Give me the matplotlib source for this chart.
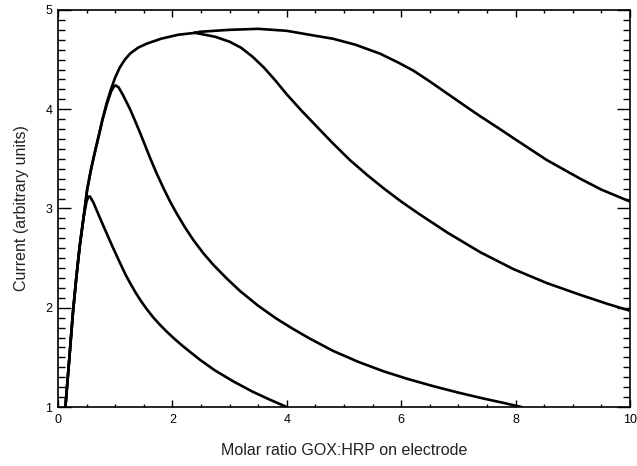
import matplotlib
matplotlib.use("Agg")
import matplotlib.pyplot as plt
from matplotlib.ticker import MultipleLocator

# rising part shared by every curve
rise_x = [0.13, 0.20, 0.26, 0.32, 0.38, 0.45, 0.51, 0.58, 0.65, 0.72, 0.78, 0.85, 0.92, 1.00, 1.08, 1.17, 1.26, 1.40, 1.55, 1.80, 2.10, 2.40]
rise_y = [1.00, 1.50, 1.94, 2.30, 2.62, 2.92, 3.19, 3.40, 3.58, 3.75, 3.90, 4.06, 4.19, 4.32, 4.42, 4.50, 4.56, 4.62, 4.66, 4.71, 4.75, 4.77]

# curve 1 : peak ~0.55
c1_x = [0.13, 0.20, 0.26, 0.32, 0.38, 0.45, 0.50, 0.53, 0.56, 0.62, 0.70, 0.82, 0.95, 1.03, 1.11, 1.18, 1.26, 1.36, 1.46, 1.56,
        1.67, 1.78, 1.90, 2.03, 2.16, 2.32, 2.48, 2.74, 3.06, 3.40, 3.70, 4.00]
c1_y = [1.00, 1.50, 1.94, 2.30, 2.62, 2.92, 3.07, 3.12, 3.12, 3.06, 2.95, 2.79, 2.62, 2.52, 2.42, 2.335, 2.25, 2.15, 2.06, 1.98,
        1.90, 1.83, 1.76, 1.69, 1.625, 1.55, 1.477, 1.37, 1.26, 1.155, 1.075, 1.00]

# curve 2 : peak ~1.0
c2_x = [0.13, 0.20, 0.26, 0.32, 0.38, 0.45, 0.51, 0.58, 0.65, 0.72, 0.78, 0.86, 0.93, 0.98, 1.01, 1.06, 1.13, 1.20, 1.26, 1.35,
        1.43, 1.52, 1.61, 1.72, 1.84, 1.96, 2.08, 2.22, 2.37, 2.54, 2.72, 2.95, 3.18, 3.50, 3.82, 4.10, 4.40, 4.81, 5.25, 5.69,
        6.10, 6.56, 7.00, 7.44, 7.80, 8.10]
c2_y = [1.00, 1.50, 1.94, 2.30, 2.62, 2.92, 3.19, 3.40, 3.58, 3.75, 3.90, 4.06, 4.18, 4.23, 4.24, 4.22, 4.15, 4.07, 4.00, 3.88,
        3.77, 3.64, 3.51, 3.36, 3.21, 3.07, 2.945, 2.81, 2.68, 2.55, 2.43, 2.295, 2.17, 2.02, 1.89, 1.79, 1.69, 1.565, 1.455, 1.36,
        1.285, 1.21, 1.145, 1.085, 1.04, 1.00]

# curve 3 : leaves the plateau ~2.4
c3_x = [2.48, 2.75, 3.00, 3.20, 3.40, 3.60, 3.80, 4.00, 4.25, 4.50, 4.80, 5.10, 5.40, 5.70, 6.00, 6.30, 6.80, 7.38, 7.96, 8.54,
        9.13, 9.60, 10.0]
c3_y = [4.76, 4.73, 4.68, 4.62, 4.53, 4.42, 4.29, 4.15, 3.99, 3.84, 3.66, 3.49, 3.34, 3.20, 3.07, 2.95, 2.76, 2.56, 2.39, 2.25,
        2.13, 2.04, 1.97]

# curve 4 : longest plateau
c4_x = [2.48, 3.00, 3.50, 4.00, 4.40, 4.81, 5.20, 5.63, 5.95, 6.21, 6.50, 6.80, 7.10, 7.38, 7.70, 7.96, 8.25, 8.54, 8.85, 9.13,
        9.50, 10.0]
c4_y = [4.78, 4.80, 4.81, 4.79, 4.75, 4.71, 4.65, 4.56, 4.47, 4.39, 4.28, 4.16, 4.04, 3.93, 3.81, 3.71, 3.60, 3.49, 3.39, 3.30,
        3.19, 3.07]

plt.rcParams['font.family'] = ['Liberation Sans', 'DejaVu Sans']

fig = plt.figure(figsize=(6.37, 4.66), dpi=100)
ax = fig.add_axes([0.091, 0.1266, 0.898, 0.852])

lw = 1.9
ax.plot(c1_x, c1_y, color='black', lw=lw)
ax.plot(c2_x, c2_y, color='black', lw=lw)
ax.plot(rise_x, rise_y, color='black', lw=lw)
ax.plot([rise_x[-1]] + c3_x, [rise_y[-1]] + c3_y, color='black', lw=lw)
ax.plot([rise_x[-1]] + c4_x, [rise_y[-1]] + c4_y, color='black', lw=lw)

ax.set_xlim(0, 10)
ax.set_ylim(1, 5)
ax.xaxis.set_major_locator(MultipleLocator(2))
ax.xaxis.set_minor_locator(MultipleLocator(0.5))
ax.yaxis.set_major_locator(MultipleLocator(1))
ax.yaxis.set_minor_locator(MultipleLocator(0.1))

ax.tick_params(axis='both', which='both', direction='in', top=True, right=True,
               color='black', width=1.0, labelsize=9, labelcolor='black')
ax.tick_params(axis='x', which='major', length=5, pad=5)
ax.tick_params(axis='x', which='minor', length=2.5)
ax.tick_params(axis='y', which='major', length=9.5, pad=4)
ax.tick_params(axis='y', which='minor', length=5)
for s in ax.spines.values():
    s.set_linewidth(1.2)

ax.set_xlabel('Molar ratio GOX:HRP on electrode', fontsize=11.5, color='#222222', labelpad=12)
ax.set_ylabel('Current (arbitrary units)', fontsize=11.5, color='#222222', labelpad=12)

fig.savefig('out.png', dpi=100)
